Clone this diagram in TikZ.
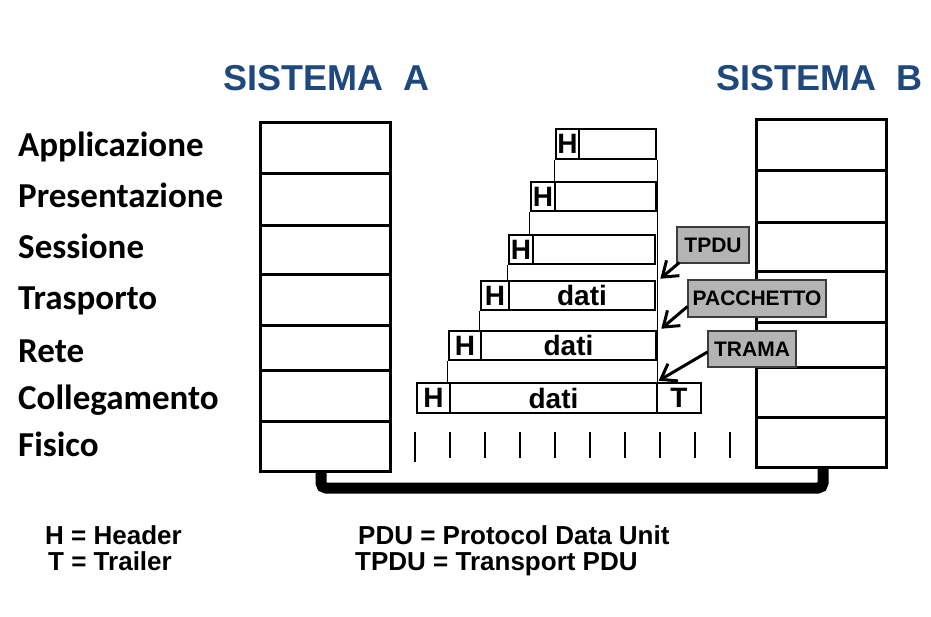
\documentclass[tikz,border=0pt]{standalone}
\usepackage{fontspec}
\setmainfont{Liberation Sans}
\newfontfamily\calfont{Carlito}
\usetikzlibrary{arrows.meta}
\definecolor{titleblue}{RGB}{31,73,125}
\definecolor{tagfill}{RGB}{180,180,180}
\definecolor{tagline}{RGB}{60,60,60}
\begin{document}
\begin{tikzpicture}[x=1pt,y=-1pt,
  cell/.style={draw,line width=3pt,minimum width=130pt,inner sep=0pt},
  pdu/.style={draw,line width=2.6pt,inner sep=0pt,font=\fontsize{28}{30}\selectfont\bfseries},
  thinline/.style={line width=1pt},
  tick/.style={line width=2.4pt},
  tag/.style={draw=tagline,fill=tagfill,line width=1.1pt,inner sep=0pt,font=\fontsize{21}{23}\selectfont\bfseries},
  layer/.style={anchor=base west,inner sep=0pt,font=\fontsize{35}{40}\selectfont\calfont\bfseries},
  title/.style={anchor=base west,inner sep=0pt,text=titleblue,font=\fontsize{36}{40}\selectfont\bfseries},
  legend/.style={anchor=base west,inner sep=0pt,font=\fontsize{26}{30}\selectfont\bfseries},
  bus/.style={line width=11pt,rounded corners=5pt}]
\tikzset{tagarrow/.style={draw=black,line width=3pt,-{Straight Barb[length=14pt,width=20pt,line width=3pt]}}}
\useasboundingbox (0,0) rectangle (931,616);

% titles
\node[title] (sa) at (223,90) {SISTEMA\ \ A};
\node[title] (sb) at (716,90) {SISTEMA\ \ B};

% layer names
\node[layer] (l1) at (18,156) {Applicazione};
\node[layer] (l2) at (18,207) {Presentazione};
\node[layer] (l3) at (18,258) {Sessione};
\node[layer] (l4) at (18,309) {Trasporto};
\node[layer] (l5) at (18,362) {Rete};
\node[layer] (l6) at (18,409) {Collegamento};
\node[layer] (l7) at (18,456) {Fisico};

% system A stack
\node[cell,minimum height=51pt] (a1) at (325,147.5) {};
\node[cell,minimum height=52pt] (a2) at (325,199) {};
\node[cell,minimum height=49pt] (a3) at (325,249.5) {};
\node[cell,minimum height=51pt] (a4) at (325,299.5) {};
\node[cell,minimum height=45pt] (a5) at (325,347.5) {};
\node[cell,minimum height=51pt] (a6) at (325,395.5) {};
\node[cell,minimum height=50pt] (a7) at (325,446) {};

% system B stack
\node[cell,minimum height=51pt] (b1) at (821.5,144.5) {};
\node[cell,minimum height=52pt] (b2) at (821.5,196) {};
\node[cell,minimum height=49pt] (b3) at (821.5,246.5) {};
\node[cell,minimum height=51pt] (b4) at (821.5,296.5) {};
\node[cell,minimum height=45pt] (b5) at (821.5,344.5) {};
\node[cell,minimum height=50pt] (b6) at (821.5,392) {};
\node[cell,minimum height=50pt] (b7) at (821.5,442) {};

% physical link
\coordinate (busL) at (321,488);
\coordinate (busR) at (823,488);
\draw[bus] (a7.south -| busL) -- (busL) -- (busR) -- (b7.south -| busR);

% PDUs
\node[pdu,minimum width=23pt,minimum height=30pt] (h1) at (567.5,144) {H};
\node[pdu,minimum width=77pt,minimum height=30pt] (d1) at (617.5,144) {};
\node[pdu,minimum width=24pt,minimum height=29pt] (h2) at (543,196.5) {H};
\node[pdu,minimum width=101pt,minimum height=29pt] (d2) at (605.5,196.5) {};
\node[pdu,minimum width=24pt,minimum height=29pt] (h3) at (521,249.5) {H};
\node[pdu,minimum width=122pt,minimum height=29pt] (d3) at (594,249.5) {};
\node[pdu,minimum width=28pt,minimum height=29pt] (h4) at (495,295.5) {H};
\node[pdu,minimum width=146pt,minimum height=29pt] (d4) at (582,295.5) {dati};
\node[pdu,minimum width=32pt,minimum height=29pt] (h5) at (465,345.5) {H};
\node[pdu,minimum width=175pt,minimum height=29pt] (d5) at (568.5,345.5) {dati};
\node[pdu,minimum width=33pt,minimum height=30pt] (h6) at (433.5,398) {H};
\node[pdu,minimum width=207pt,minimum height=30pt] (d6) at (553.5,398) {dati};
\node[pdu,minimum width=44pt,minimum height=30pt] (t6) at (679,398) {T};

% encapsulation guide lines
\draw[thinline] (h1.south west) -- (h1.south west |- h2.north);
\draw[thinline] (h2.south west) -- (h2.south west |- h3.north);
\draw[thinline] (h3.south west) -- (h3.south west |- h4.north);
\draw[thinline] (h4.south west) -- (h4.south west |- h5.north);
\draw[thinline] (h5.south west) -- (h5.south west |- h6.north);
\draw[thinline] (d1.south east) -- (d1.south east |- t6.north);

% bits on the physical medium
\draw[tick] (415,432) -- (415,462);
\foreach \k in {1,...,9}{
  \draw[tick] ({415+35*\k},432) -- ({415+35*\k},458);
}

% tags
\node[tag,minimum width=72pt,minimum height=36pt] (tpdu) at (713,245) {TPDU};
\node[tag,minimum width=138pt,minimum height=37pt] (pac) at (757,298.5) {PACCHETTO};
\node[tag,minimum width=88pt,minimum height=36pt] (trama) at (752,349) {TRAMA};
\draw[tagarrow] ([xshift=3pt,yshift=1pt]tpdu.south west) -- ([xshift=4pt,yshift=1pt]d4.north east);
\draw[tagarrow] ([yshift=-8pt]pac.west) -- ([xshift=4pt,yshift=1pt]d5.north east);
\draw[tagarrow] ([yshift=-3pt]trama.west) -- ([xshift=3pt,yshift=1pt]t6.north west);

% legend
\node[legend] (lh) at (45,544) {H = Header};
\node[legend] (lt) at (48,570) {T = Trailer};
\node[legend] (lp) at (358,544) {PDU = Protocol Data Unit};
\node[legend] (ltp) at (355,570) {TPDU = Transport PDU};
\end{tikzpicture}
\end{document}
